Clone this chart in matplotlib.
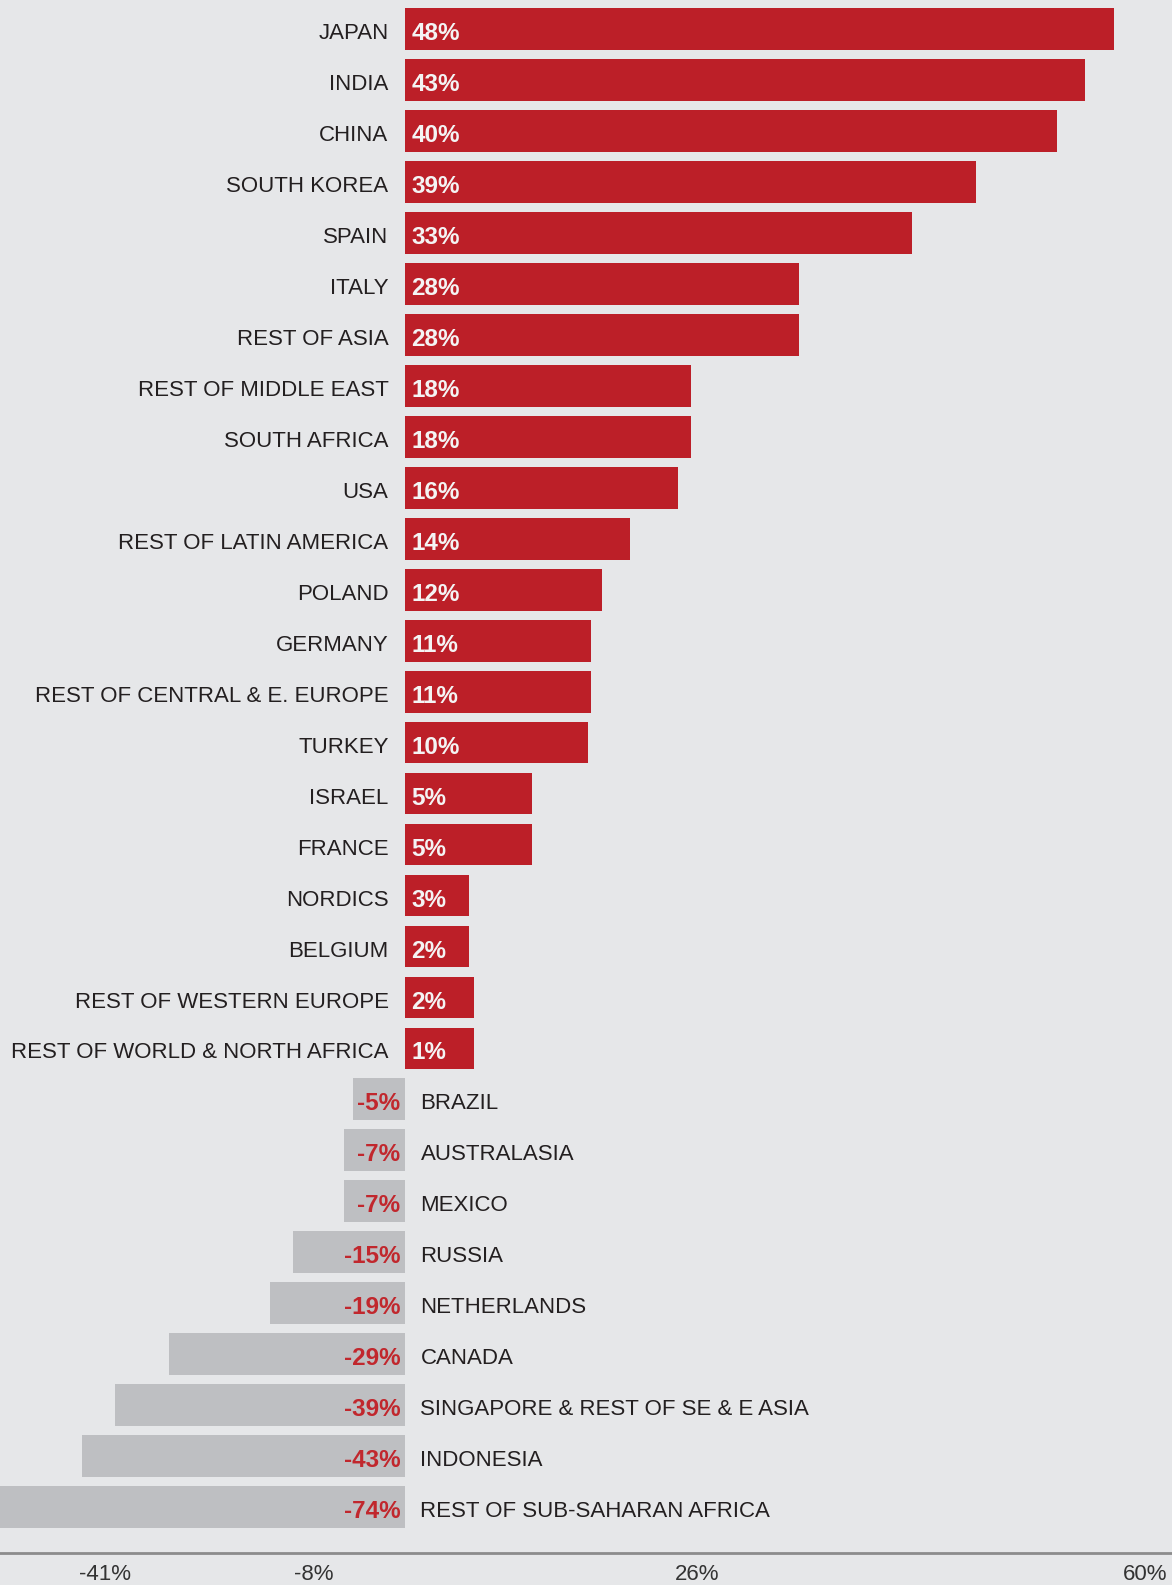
import matplotlib
matplotlib.use("Agg")
import matplotlib.pyplot as plt
import numpy as np

# ---- data ----
countries = ["JAPAN", "INDIA", "CHINA", "SOUTH KOREA", "SPAIN", "ITALY", "REST OF ASIA",
             "REST OF MIDDLE EAST", "SOUTH AFRICA", "USA", "REST OF LATIN AMERICA", "POLAND",
             "GERMANY", "REST OF CENTRAL & E. EUROPE", "TURKEY", "ISRAEL", "FRANCE", "NORDICS",
             "BELGIUM", "REST OF WESTERN EUROPE", "REST OF WORLD & NORTH AFRICA",
             "BRAZIL", "AUSTRALASIA", "MEXICO", "RUSSIA", "NETHERLANDS", "CANADA",
             "SINGAPORE & REST OF SE & E ASIA", "INDONESIA", "REST OF SUB-SAHARAN AFRICA"]
value_labels = [48, 43, 40, 39, 33, 28, 28, 18, 18, 16, 14, 12, 11, 11, 10, 5, 5, 3, 2, 2, 1,
                -5, -7, -7, -15, -19, -29, -39, -43, -74]
# drawn bar extents (chart's own horizontal units)
bar_extent = [709, 680, 652, 571, 507, 394, 394, 286, 286, 273, 225, 197, 186, 186, 183,
              127, 127, 64, 64, 69, 69,
              -52, -61, -61, -112, -135, -236, -290, -323, -420]
tick_values = [-300, -91, 293, 741]
tick_labels = ["-41%", "-8%", "26%", "60%"]

# ---- style ----
BG = "#e6e7e9"
RED = "#bc1f28"
GREY = "#bebfc2"
TXT = "#231f20"
FONT = "Liberation Sans"

W, H = 1172, 1585
fig = plt.figure(figsize=(W / 100, H / 100), dpi=100, facecolor=BG)
axis_y_px = 1553
ax = fig.add_axes([0, 1 - axis_y_px / H, 1, axis_y_px / H], facecolor=BG)

n = len(countries)
y = np.arange(n)
colors = [RED if v > 0 else GREY for v in value_labels]
ax.barh(y, bar_extent, height=0.82, color=colors, linewidth=0)

row0_px, pitch = 29.0, 50.97
ax.set_ylim((axis_y_px - row0_px) / pitch, -row0_px / pitch)
ax.set_xlim(-404.5, 767.5)

fs = 16
vfs = 17.5
dy = -1.5
for yi, name, v in zip(y, countries, value_labels):
    if v > 0:
        ax.annotate(name, (0, yi), xytext=(-11.5, dy), textcoords="offset points",
                    ha="right", va="center_baseline", fontsize=fs, color=TXT, family=FONT)
        ax.annotate(f"{v}%", (0, yi), xytext=(5, dy), textcoords="offset points",
                    ha="left", va="center_baseline", fontsize=vfs, color="#f4f4f4",
                    fontweight="bold", family=FONT)
    else:
        ax.annotate(name, (0, yi), xytext=(11.5, dy), textcoords="offset points",
                    ha="left", va="center_baseline", fontsize=fs, color=TXT, family=FONT)
        ax.annotate(f"{v}%", (0, yi), xytext=(-3, dy), textcoords="offset points",
                    ha="right", va="center_baseline", fontsize=vfs, color="#c1272d",
                    fontweight="bold", family=FONT)

for s in ["top", "right", "left"]:
    ax.spines[s].set_visible(False)
ax.spines["bottom"].set_color("#8c8c8c")
ax.spines["bottom"].set_linewidth(2)
ax.set_yticks([])
ax.set_xticks(tick_values)
ax.set_xticklabels(tick_labels, fontsize=fs, color="#333333", family=FONT)
ax.tick_params(axis="x", length=0, pad=8)

fig.savefig("out.png", dpi=100, facecolor=BG)
